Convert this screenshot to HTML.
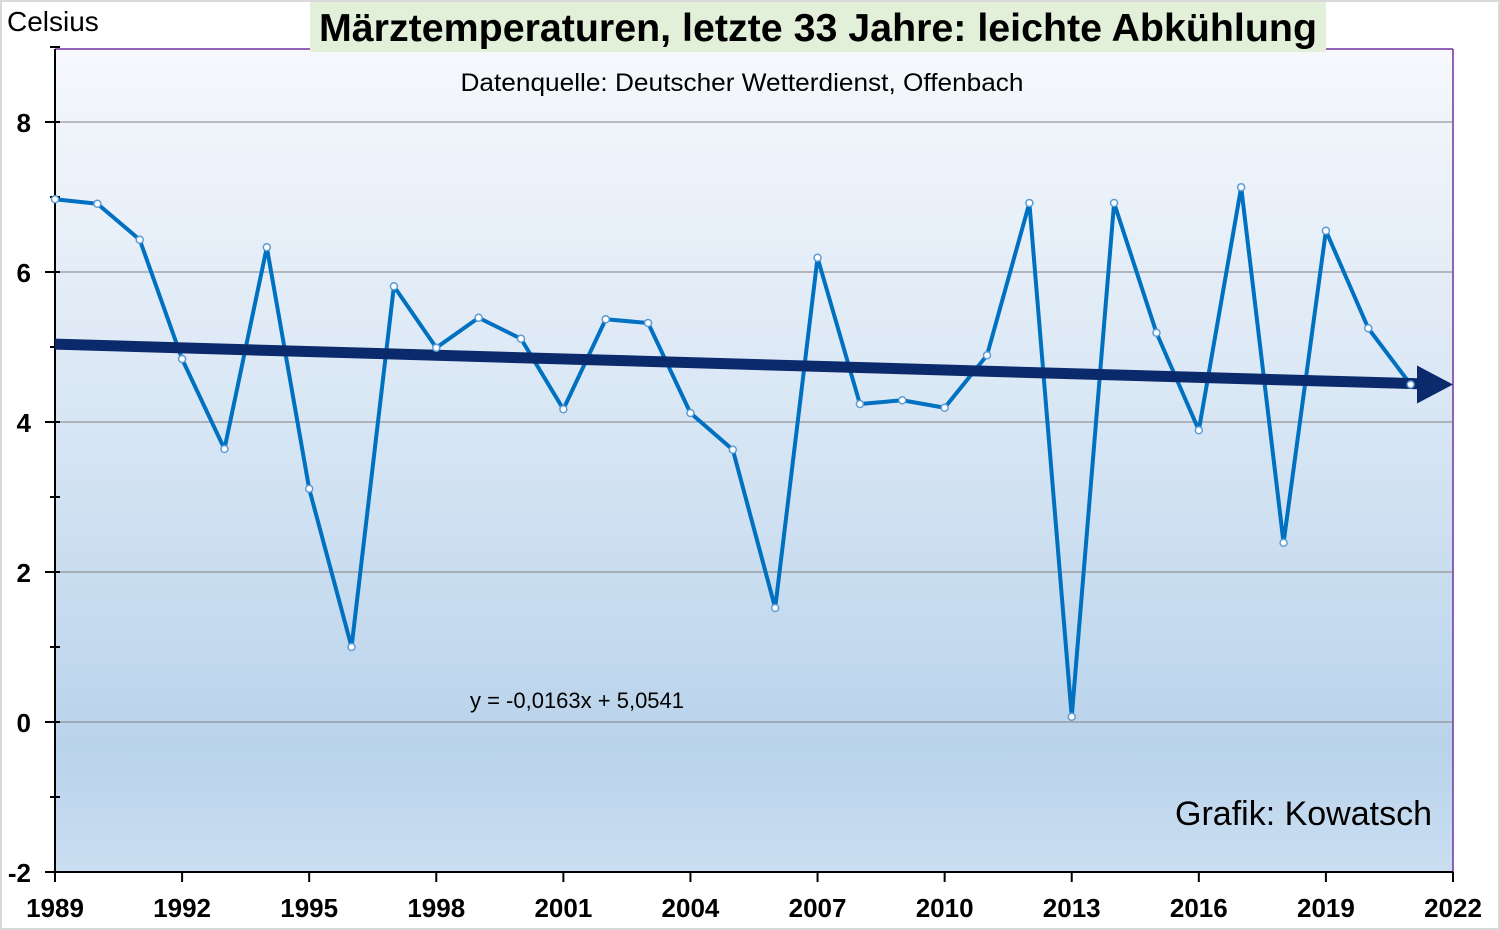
<!DOCTYPE html>
<html><head><meta charset="utf-8"><style>
html,body{margin:0;padding:0;background:#fff;}
svg{display:block;font-family:"Liberation Sans",Arial,sans-serif;}
</style></head><body>
<svg id="chart" width="1500" height="930" xmlns="http://www.w3.org/2000/svg">
<defs>
<linearGradient id="bg" x1="0" y1="0" x2="0" y2="1">
<stop offset="0" stop-color="#f6f8fc"/>
<stop offset="0.45" stop-color="#d8e6f4"/>
<stop offset="0.85" stop-color="#b9d3eb"/>
<stop offset="1" stop-color="#cadef1"/>
</linearGradient>
</defs>
<rect x="1" y="1" width="1498" height="928" fill="#fff" stroke="#d9d9d9" stroke-width="2"/>
<rect x="55" y="49" width="1398" height="823" fill="url(#bg)"/>
<line x1="55" y1="49" x2="1453" y2="49" stroke="#7030a0" stroke-width="1.5"/>
<line x1="1453" y1="49" x2="1453" y2="872" stroke="#7030a0" stroke-width="1.5"/>
<rect x="310" y="2" width="1016" height="50" fill="#e2efd9"/>
<text x="818" y="41" text-anchor="middle" font-size="39" font-weight="bold" textLength="998" lengthAdjust="spacingAndGlyphs">Märztemperaturen, letzte 33 Jahre: leichte Abkühlung</text>
<text x="7" y="31" font-size="28">Celsius</text>
<text x="742" y="91" text-anchor="middle" font-size="25" textLength="563" lengthAdjust="spacingAndGlyphs">Datenquelle: Deutscher Wetterdienst, Offenbach</text>
<text x="577" y="708" text-anchor="middle" font-size="22">y = -0,0163x + 5,0541</text>
<text x="1432" y="825" text-anchor="end" font-size="34">Grafik: Kowatsch</text>
<g id="grid"></g><g id="axes"></g><g id="marks"></g>
</svg>
<script>
const years=[1989,1990,1991,1992,1993,1994,1995,1996,1997,1998,1999,2000,2001,2002,2003,2004,2005,2006,2007,2008,2009,2010,2011,2012,2013,2014,2015,2016,2017,2018,2019,2020,2021];
const temps=[6.97,6.91,6.43,4.84,3.64,6.33,3.11,1.0,5.81,4.99,5.39,5.11,4.17,5.37,5.32,4.12,3.63,1.52,6.19,4.24,4.29,4.19,4.89,6.92,0.07,6.92,5.19,3.89,7.13,2.39,6.55,5.25,4.5];
const yTicks=[-2,0,2,4,6,8];
const xTicks=[1989,1992,1995,1998,2001,2004,2007,2010,2013,2016,2019,2022];
const trendSlope=-0.0163, trendIntercept=5.0541;
const NS="http://www.w3.org/2000/svg";
const X=y=>55+(y-1989)*(1398/33);
const Y=v=>722-v*75;
function mk(t,a,p){const e=document.createElementNS(NS,t);for(const k in a)e.setAttribute(k,a[k]);document.getElementById(p).appendChild(e);return e;}
yTicks.forEach(v=>{
 if(v>-2){const g=mk('line',{x1:55,x2:1453,y1:Y(v),y2:Y(v),stroke:'#808080','stroke-width':1},'grid');
 
 }
 mk('line',{x1:45,x2:60,y1:Y(v),y2:Y(v),stroke:'#000','stroke-width':2},'axes');
 const t=mk('text',{x:31,y:Y(v)+10,'text-anchor':'end','font-size':26,'font-weight':'bold'},'axes');t.textContent=v;
 
 
});
for(let v=-1;v<=9;v+=2){mk('line',{x1:50,x2:60,y1:Y(v),y2:Y(v),stroke:'#000','stroke-width':2},'axes');}
mk('line',{x1:55,x2:55,y1:49,y2:872,stroke:'#000','stroke-width':2},'axes');
mk('line',{x1:55,x2:1453,y1:872,y2:872,stroke:'#000','stroke-width':2},'axes');
xTicks.forEach(y=>{
 mk('line',{x1:X(y),x2:X(y),y1:872,y2:882,stroke:'#000','stroke-width':2},'axes');
 const t=mk('text',{x:X(y),y:917,'text-anchor':'middle','font-size':26,'font-weight':'bold'},'axes');t.textContent=y;
 
 
});
const pts=years.map((y,i)=>X(y)+','+Y(temps[i])).join(' ');
const line=mk('polyline',{points:pts,fill:'none',stroke:'#0070c0','stroke-width':4,'stroke-linejoin':'round'},'marks');


const ex=X(2022),ey=Y(trendIntercept+trendSlope*34);
const tx1=X(1989),ty1=Y(trendIntercept+trendSlope*1);
const tr=mk('line',{x1:tx1,y1:ty1,x2:ex-30,y2:ey-0.6,stroke:'#0b2a6b','stroke-width':11},'marks');


const ah=mk('polygon',{points:`${ex},${ey} ${ex-36},${ey-19} ${ex-36},${ey+19}`,fill:'#0b2a6b'},'marks');


years.forEach((y,i)=>{
 const c=mk('circle',{cx:X(y),cy:Y(temps[i]),r:3.5,fill:'#fff',stroke:'#5b9bd5','stroke-width':1.5},'marks');
 
 
});
</script>
</body></html>
